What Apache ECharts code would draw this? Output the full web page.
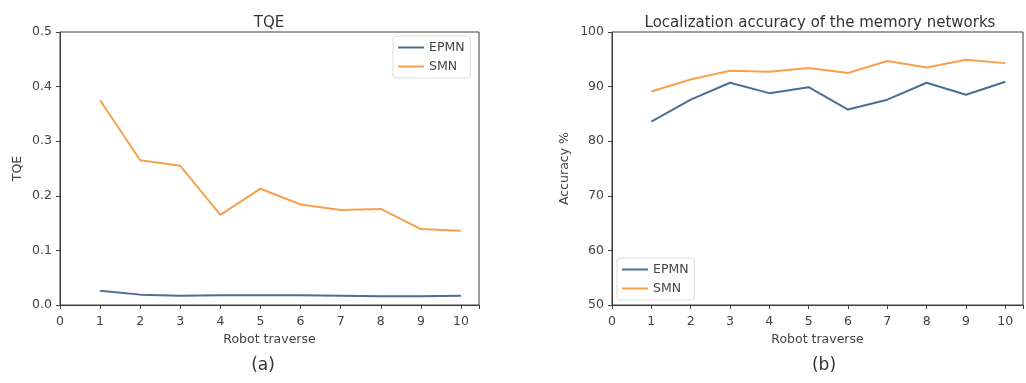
<!DOCTYPE html>
<html>
<head>
<meta charset="utf-8">
<script src="https://cdn.jsdelivr.net/npm/echarts@6/dist/echarts.min.js"></script>
<style>
html,body{margin:0;padding:0;background:#fff;}
#chart{width:1026px;height:383px;}
</style>
</head>
<body>
<div id="chart"></div>
<script>
// ---- data ----
const traverse = [1, 2, 3, 4, 5, 6, 7, 8, 9, 10];
const tqeEPMN = [0.026, 0.019, 0.017, 0.018, 0.018, 0.018, 0.017, 0.016, 0.016, 0.017];
const tqeSMN  = [0.375, 0.265, 0.255, 0.165, 0.213, 0.184, 0.174, 0.176, 0.139, 0.136];
const accEPMN = [83.6, 87.6, 90.7, 88.8, 89.9, 85.8, 87.6, 90.7, 88.5, 90.9];
const accSMN  = [89.1, 91.3, 92.9, 92.7, 93.4, 92.5, 94.7, 93.5, 94.9, 94.3];
const xTicks = [0, 1, 2, 3, 4, 5, 6, 7, 8, 9, 10];
const seriesNames = ['EPMN', 'SMN'];

const BLUE = '#4a6f96';
const ORANGE = '#f6a14e';
const FRAME = '#3c3c3c';
const TXT = '#444';
const FONT = 'DejaVu Sans';
const FS = 12.5;

const pairs = (xs, ys) => xs.map((x, i) => [x, ys[i]]);

function xAxis(gridIndex) {
  return {
    type: 'value', gridIndex, min: 0, max: 10.45, interval: 1,
    name: 'Robot traverse', nameLocation: 'middle', nameGap: 28,
    nameTextStyle: { color: TXT, fontSize: FS, fontFamily: FONT },
    axisLine: { show: true, lineStyle: { color: FRAME, width: 1 } },
    axisTick: { show: true, inside: false, length: 4, lineStyle: { color: FRAME } },
    axisLabel: { color: TXT, fontSize: FS, fontFamily: FONT, margin: 10,
      formatter: v => (xTicks.indexOf(v) >= 0 ? String(v) : '') },
    splitLine: { show: false }
  };
}

function legend(left, top) {
  return { data: seriesNames, orient: 'vertical', left, top,
    itemWidth: 26, itemHeight: 2, itemGap: 6, icon: 'rect',
    padding: [5, 6, 5, 5], borderColor: '#ddd', borderWidth: 1, borderRadius: 3,
    textStyle: { color: TXT, fontSize: FS, fontFamily: FONT } };
}

const chart = echarts.init(document.getElementById('chart'));
chart.setOption({
  animation: false,
  backgroundColor: '#fff',
  color: [BLUE, ORANGE],
  title: [
    { text: 'TQE', left: 264, top: 11, textAlign: 'center',
      textStyle: { color: '#333', fontSize: 15, fontWeight: 'normal', fontFamily: FONT } },
    { text: 'Localization accuracy of the memory networks', left: 815, top: 11, textAlign: 'center',
      textStyle: { color: '#333', fontSize: 15, fontWeight: 'normal', fontFamily: FONT } },
    { text: '(a)', left: 258, top: 352, textAlign: 'center',
      textStyle: { color: '#333', fontSize: 17, fontWeight: 'normal', fontFamily: FONT } },
    { text: '(b)', left: 819, top: 352, textAlign: 'center',
      textStyle: { color: '#333', fontSize: 17, fontWeight: 'normal', fontFamily: FONT } }
  ],
  legend: [legend(393, 36), legend(617, 258)],
  grid: [
    { left: 60, top: 32, right: 1026 - 479, height: 273,
      show: true, borderColor: FRAME, borderWidth: 1, backgroundColor: 'transparent' },
    { left: 612, top: 32, right: -6, height: 273,
      show: true, borderColor: FRAME, borderWidth: 1, backgroundColor: 'transparent' }
  ],
  xAxis: [xAxis(0), xAxis(1)],
  yAxis: [
    { type: 'value', gridIndex: 0, min: 0, max: 0.5, interval: 0.1,
      name: 'TQE', nameLocation: 'middle', nameGap: 36, nameRotate: 90,
      nameTextStyle: { color: TXT, fontSize: FS, fontFamily: FONT },
      axisLine: { show: true, lineStyle: { color: FRAME } },
      axisTick: { show: true, inside: false, length: 4, lineStyle: { color: FRAME } },
      axisLabel: { color: TXT, fontSize: FS, fontFamily: FONT, margin: 8,
        formatter: v => v.toFixed(1) },
      splitLine: { show: false } },
    { type: 'value', gridIndex: 1, min: 50, max: 100, interval: 10,
      name: 'Accuracy %', nameLocation: 'middle', nameGap: 41, nameRotate: 90,
      nameTextStyle: { color: TXT, fontSize: FS, fontFamily: FONT },
      axisLine: { show: true, lineStyle: { color: FRAME } },
      axisTick: { show: true, inside: false, length: 4, lineStyle: { color: FRAME } },
      axisLabel: { color: TXT, fontSize: FS, fontFamily: FONT, margin: 8 },
      splitLine: { show: false } }
  ],
  series: [
    { name: 'EPMN', type: 'line', xAxisIndex: 0, yAxisIndex: 0, data: pairs(traverse, tqeEPMN),
      showSymbol: false, lineStyle: { color: BLUE, width: 2 }, itemStyle: { color: BLUE } },
    { name: 'SMN', type: 'line', xAxisIndex: 0, yAxisIndex: 0, data: pairs(traverse, tqeSMN),
      showSymbol: false, lineStyle: { color: ORANGE, width: 2 }, itemStyle: { color: ORANGE } },
    { name: 'EPMN', type: 'line', xAxisIndex: 1, yAxisIndex: 1, data: pairs(traverse, accEPMN),
      showSymbol: false, lineStyle: { color: BLUE, width: 2 }, itemStyle: { color: BLUE } },
    { name: 'SMN', type: 'line', xAxisIndex: 1, yAxisIndex: 1, data: pairs(traverse, accSMN),
      showSymbol: false, lineStyle: { color: ORANGE, width: 2 }, itemStyle: { color: ORANGE } }
  ]
});
</script>
</body>
</html>
